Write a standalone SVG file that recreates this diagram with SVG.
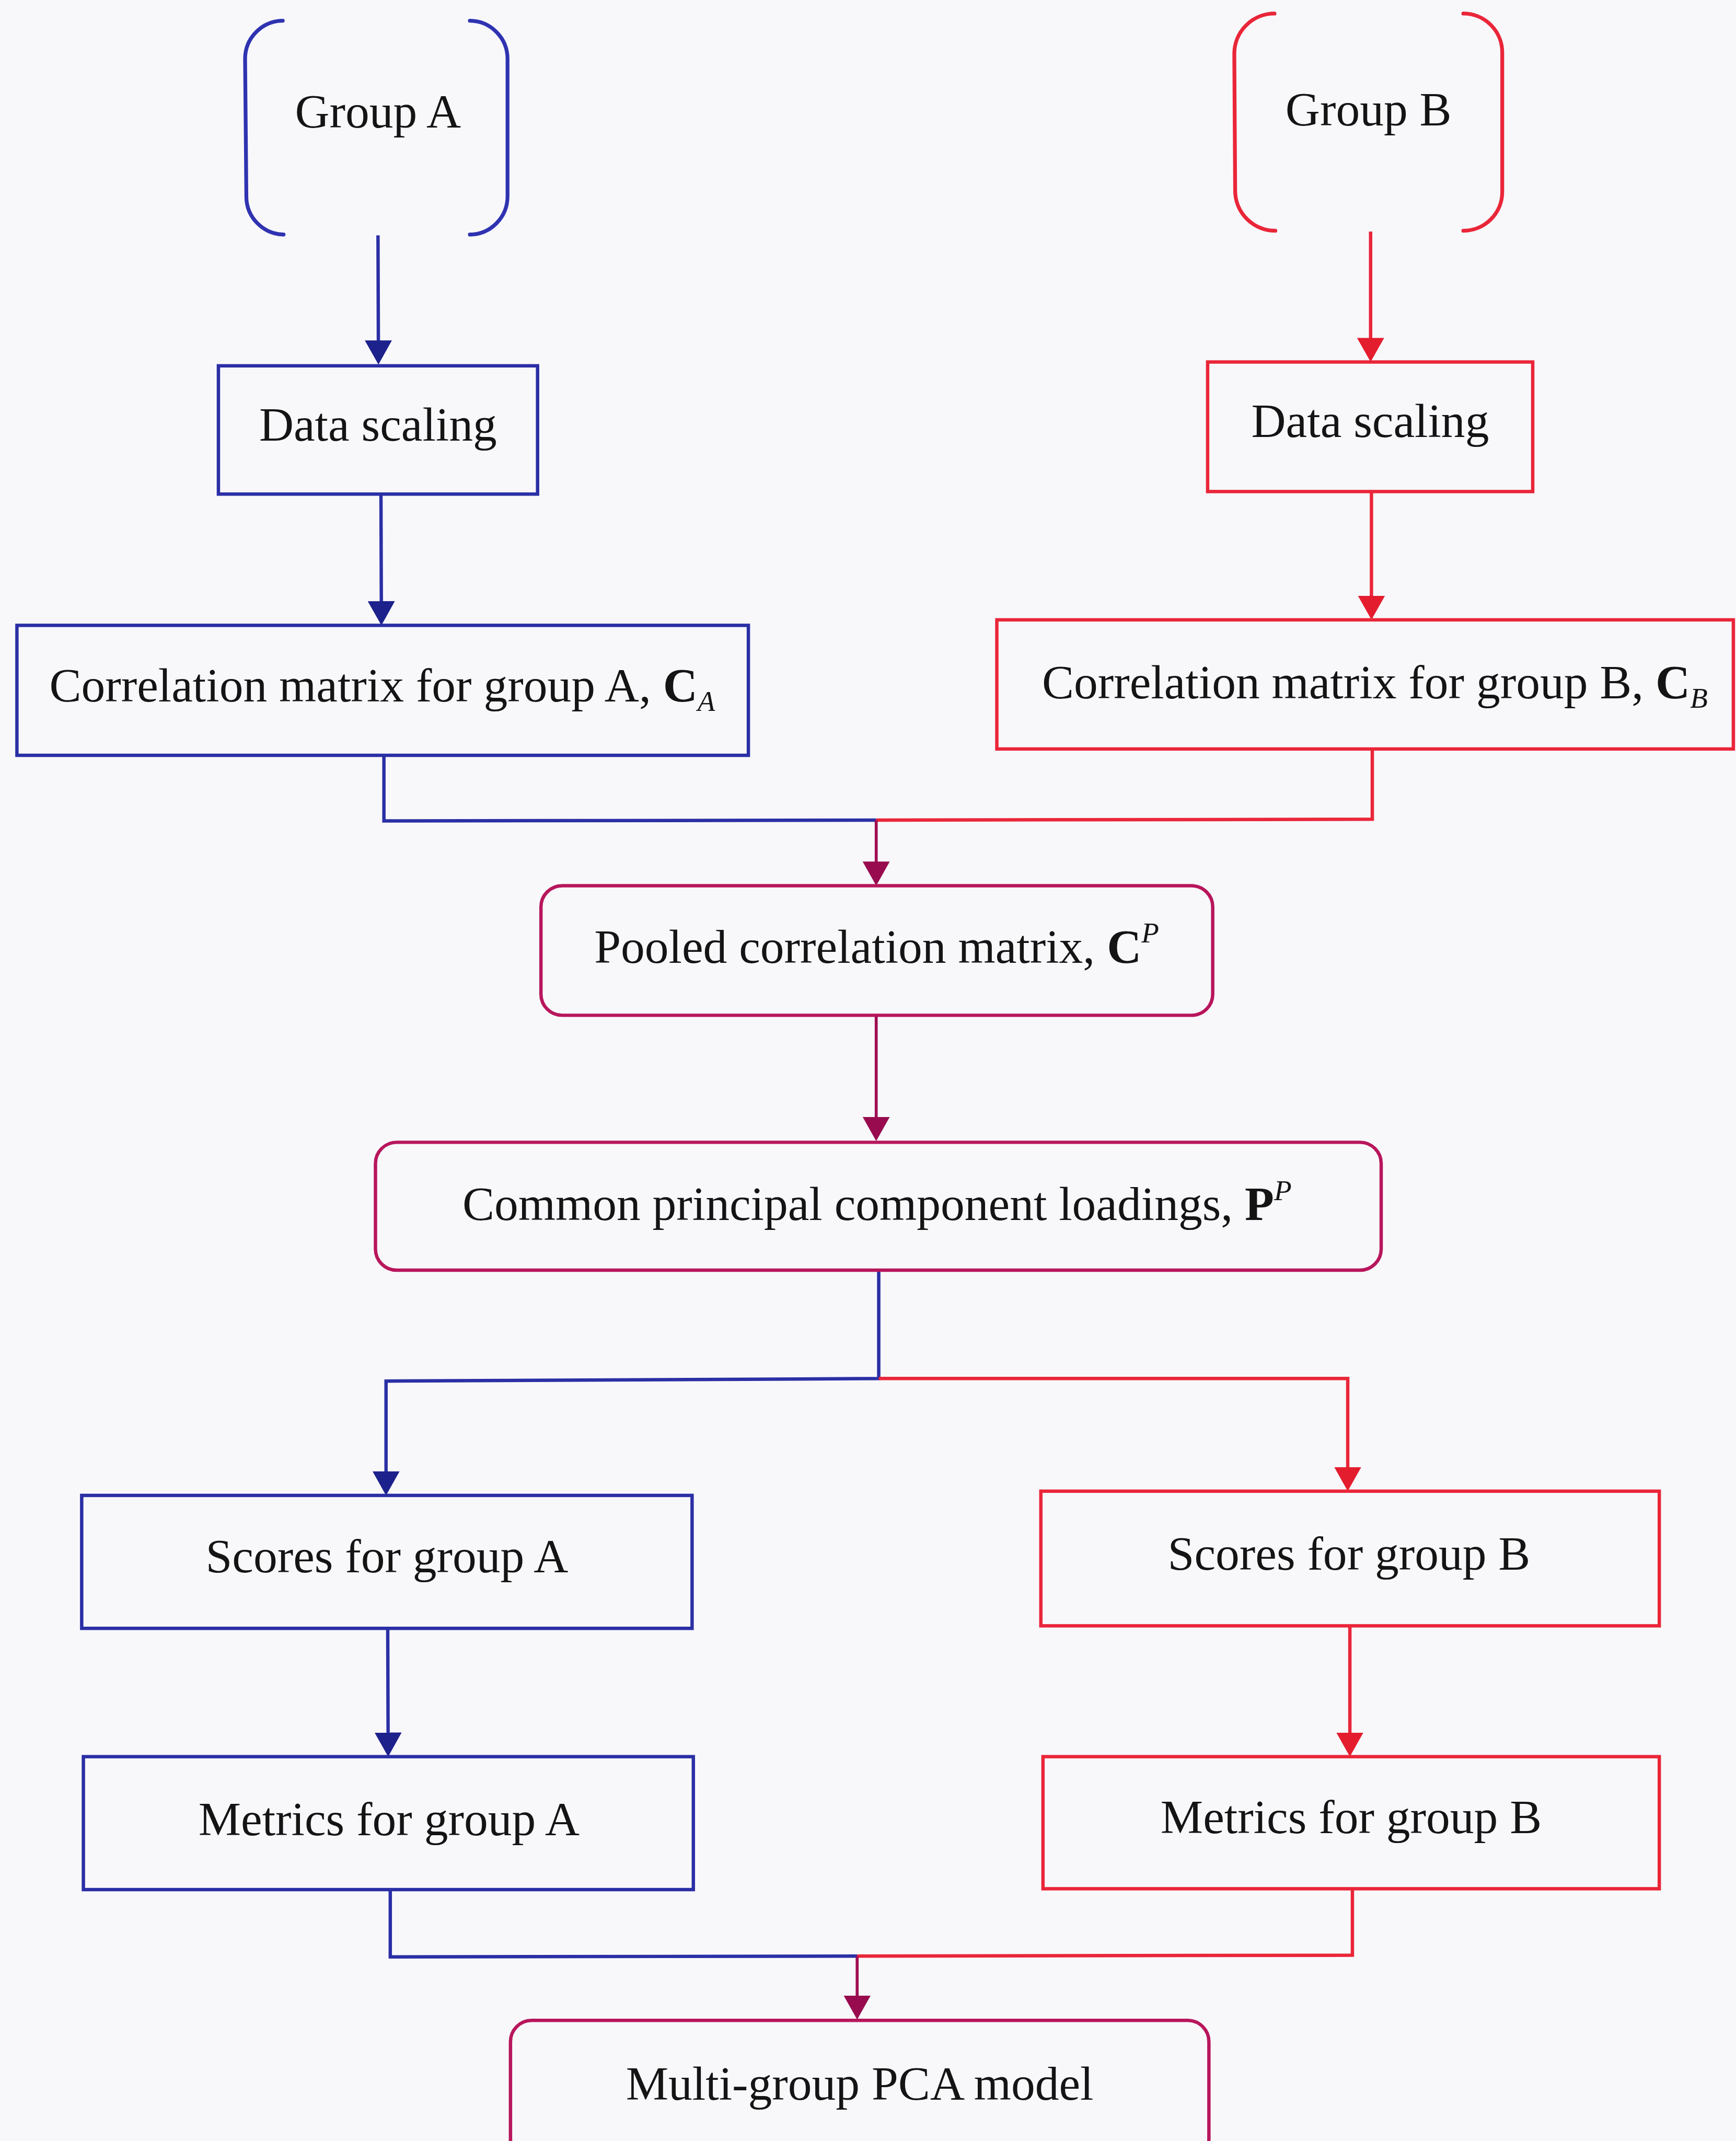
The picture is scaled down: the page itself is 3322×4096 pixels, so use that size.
<svg xmlns="http://www.w3.org/2000/svg" width="3322" height="4096" viewBox="0 0 3322 4096">
  <style>
    .lbl { font-family: "Liberation Serif", "Times New Roman", serif; font-size: 113px; fill: #141414; text-anchor: middle; }
    .b { font-weight: bold; }
    .it { font-style: italic; font-size: 68px; }
    .blue { fill: none; stroke: #2b2fa5; stroke-width: 8; }
    .red { fill: none; stroke: #ea2639; stroke-width: 8; }
    .mix { fill: none; stroke: #b8165c; stroke-width: 8; }
    .brk-blue { fill: none; stroke: #2f33b0; stroke-width: 9; stroke-linecap: round; }
    .brk-red { fill: none; stroke: #ea2639; stroke-width: 9; stroke-linecap: round; }
    .cb { fill: none; stroke: #2b2fa5; stroke-width: 8; }
    .cr { fill: none; stroke: #ea2639; stroke-width: 8; }
    .cm { fill: none; stroke: #9e0d52; stroke-width: 7; }
  </style>
  <defs>
    <marker id="arrBlue" viewBox="0 0 57 64" markerWidth="57" markerHeight="64" refX="37" refY="32" orient="auto" markerUnits="userSpaceOnUse">
      <path d="M0,0 L57,32 L0,64 Z" fill="#1d218c"/>
    </marker>
    <marker id="arrRed" viewBox="0 0 57 64" markerWidth="57" markerHeight="64" refX="37" refY="32" orient="auto" markerUnits="userSpaceOnUse">
      <path d="M0,0 L57,32 L0,64 Z" fill="#e41d2e"/>
    </marker>
    <marker id="arrMix" viewBox="0 0 57 64" markerWidth="57" markerHeight="64" refX="37" refY="32" orient="auto" markerUnits="userSpaceOnUse">
      <path d="M0,0 L57,32 L0,64 Z" fill="#980c4f"/>
    </marker>
  </defs>

  <rect x="0" y="0" width="3322" height="4096" fill="#f8f8fb"/>

  <g transform="scale(0.81)">
    <!-- connectors -->
    <g id="connectors">
      <path class="cb" d="M893,556 L894,841" marker-end="url(#arrBlue)"/>
      <path class="cr" d="M3238,547 L3238,835" marker-end="url(#arrRed)"/>
      <path class="cb" d="M900,1167 L901,1457" marker-end="url(#arrBlue)"/>
      <path class="cr" d="M3240,1161 L3240,1444" marker-end="url(#arrRed)"/>
      <path class="cb" d="M907,1784 L907,1939 L2070,1937"/>
      <path class="cr" d="M3242,1769 L3242,1935 L2070,1937"/>
      <path class="cm" d="M2070,1937 L2070,2072" marker-end="url(#arrMix)"/>
      <path class="cm" d="M2070,2398 L2070,2675" marker-end="url(#arrMix)"/>
      <path class="cb" d="M2076,3000 L2076,3256 L912,3262 L912,3512" marker-end="url(#arrBlue)"/>
      <path class="cr" d="M2076,3256 L3184,3256 L3184,3502" marker-end="url(#arrRed)"/>
      <path class="cb" d="M916,3846 L917,4129" marker-end="url(#arrBlue)"/>
      <path class="cr" d="M3189,3840 L3189,4129" marker-end="url(#arrRed)"/>
      <path class="cb" d="M922,4463 L922,4622 L2025,4620"/>
      <path class="cr" d="M3195,4461 L3195,4618 L2025,4620"/>
      <path class="cm" d="M2025,4620 L2025,4750" marker-end="url(#arrMix)"/>
    </g>

    <!-- input groups -->
    <g id="group-a">
      <path class="brk-blue" d="M668,49 A90,90 0 0 0 579,139 L582,464 A90,90 0 0 0 670,554"/>
      <path class="brk-blue" d="M1110,49 A90,90 0 0 1 1199,139 L1199,464 A90,90 0 0 1 1110,554"/>
      <text class="lbl" x="893" y="301">Group A</text>
    </g>
    <g id="group-b">
      <path class="brk-red" d="M3011,32 A95,95 0 0 0 2916,127 L2918,450 A95,95 0 0 0 3013,545"/>
      <path class="brk-red" d="M3457,32 A92,92 0 0 1 3549,124 L3549,453 A92,92 0 0 1 3457,545"/>
      <text class="lbl" x="3233" y="296">Group B</text>
    </g>

    <!-- scaling -->
    <g id="scaling-a">
      <rect class="blue" x="516" y="864" width="754" height="303"/>
      <text class="lbl" x="893" y="1041">Data scaling</text>
    </g>
    <g id="scaling-b">
      <rect class="red" x="2853" y="855" width="768" height="306"/>
      <text class="lbl" x="3237" y="1032">Data scaling</text>
    </g>

    <!-- correlation matrices -->
    <g id="corr-a">
      <rect class="blue" x="40" y="1477" width="1728" height="307"/>
      <text class="lbl" x="903" y="1657">Correlation matrix for group A, <tspan class="b">C</tspan><tspan class="it" dy="22">A</tspan></text>
    </g>
    <g id="corr-b">
      <rect class="red" x="2355" y="1464" width="1740" height="305"/>
      <text class="lbl" x="3248" y="1649">Correlation matrix for group B, <tspan class="b">C</tspan><tspan class="it" dy="22">B</tspan></text>
    </g>

    <!-- pooled steps -->
    <g id="pooled">
      <rect class="mix" x="1278" y="2092" width="1587" height="306" rx="50" ry="50"/>
      <text class="lbl" x="2071" y="2274">Pooled correlation matrix, <tspan class="b">C</tspan><tspan class="it" dy="-48">P</tspan></text>
    </g>
    <g id="loadings">
      <rect class="mix" x="887" y="2698" width="2376" height="302" rx="50" ry="50"/>
      <text class="lbl" x="2072" y="2882">Common principal component loadings, <tspan class="b">P</tspan><tspan class="it" dy="-48">P</tspan></text>
    </g>

    <!-- scores -->
    <g id="scores-a">
      <rect class="blue" x="193" y="3532" width="1442" height="314"/>
      <text class="lbl" x="914" y="3714">Scores for group A</text>
    </g>
    <g id="scores-b">
      <rect class="red" x="2459" y="3522" width="1461" height="318"/>
      <text class="lbl" x="3187" y="3707">Scores for group B</text>
    </g>

    <!-- metrics -->
    <g id="metrics-a">
      <rect class="blue" x="197" y="4149" width="1441" height="314"/>
      <text class="lbl" x="919" y="4334">Metrics for group A</text>
    </g>
    <g id="metrics-b">
      <rect class="red" x="2464" y="4149" width="1456" height="312"/>
      <text class="lbl" x="3192" y="4330">Metrics for group B</text>
    </g>

    <!-- final model -->
    <g id="model">
      <rect class="mix" x="1206" y="4772" width="1650" height="330" rx="50" ry="50"/>
      <text class="lbl" x="2031" y="4959">Multi-group PCA model</text>
    </g>
  </g>
</svg>
